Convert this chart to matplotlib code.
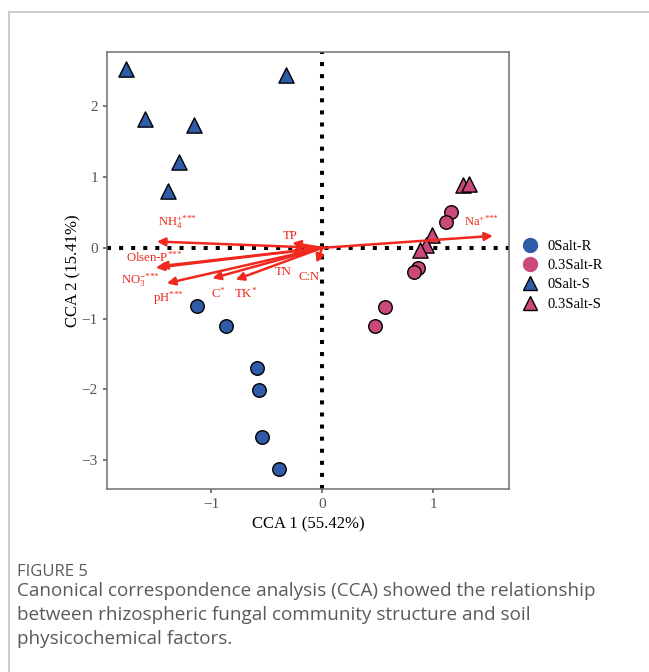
import matplotlib.pyplot as plt
from matplotlib.lines import Line2D
from matplotlib.patches import Rectangle

# Sample scores on CCA1 / CCA2
r0_x = [-1.13, -0.87, -0.59, -0.57, -0.54, -0.39]
r0_y = [-0.82, -1.10, -1.70, -2.01, -2.67, -3.13]
r3_x = [1.16, 1.12, 0.86, 0.83, 0.57, 0.48]
r3_y = [0.51, 0.37, -0.28, -0.34, -0.83, -1.10]
s0_x = [-1.77, -1.60, -1.16, -1.29, -1.39, -0.33]
s0_y = [2.53, 1.82, 1.74, 1.22, 0.81, 2.45]
s3_x = [1.27, 1.32, 0.99, 0.94, 0.88]
s3_y = [0.89, 0.91, 0.18, 0.04, -0.03]

# Environmental factor vectors
env_names = ['NH$_4^{+{*}{*}{*}}$', 'TP', 'Olsen-P$^{{*}{*}{*}}$', 'NO$_3^{-{*}{*}{*}}$',
             'pH$^{{*}{*}{*}}$', 'C$^{{*}}$', 'TK$^{{*}}$', 'TN', 'C:N', 'Na$^{+{*}{*}{*}}$']
env_x = [-1.49, -0.27, -1.47, -1.50, -1.40, -0.99, -0.78, -0.28, -0.05, 1.54]
env_y = [0.09, 0.07, -0.26, -0.28, -0.50, -0.43, -0.45, -0.05, -0.21, 0.17]
lab_x = [-1.31, -0.29, -1.52, -1.64, -1.39, -0.94, -0.69, -0.35, -0.12, 1.44]
lab_y = [0.36, 0.17, -0.14, -0.45, -0.71, -0.64, -0.64, -0.34, -0.41, 0.37]

blue = '#2F5BA8'
pink = '#C9497A'
red = '#F0281E'

plt.rcParams['font.family'] = ['Liberation Serif', 'DejaVu Serif']
plt.rcParams['mathtext.default'] = 'regular'
fig = plt.figure(figsize=(6.49, 6.72), dpi=100)

# light card border
fig.patches.append(Rectangle((9 / 649, -0.1), 1.2, 1 - 12 / 672 + 0.1,
                             transform=fig.transFigure, fill=False,
                             edgecolor='#c4c4c4', lw=1.2))

ax = fig.add_axes([0.1649, 0.2723, 0.6194, 0.6503])
ax.set_xlim(-1.94, 1.685)
ax.set_ylim(-3.41, 2.77)

ax.axhline(0, color='black', lw=2.9, ls=(0, (1, 2)), zorder=1)
ax.axvline(0, color='black', lw=2.9, ls=(0, (1, 2)), zorder=1)

ax.scatter(r0_x, r0_y, s=95, c=blue, edgecolors='black', linewidths=1, marker='o', zorder=3)
ax.scatter(r3_x, r3_y, s=95, c=pink, edgecolors='black', linewidths=1, marker='o', zorder=3)
ax.scatter(s0_x, s0_y, s=120, c=blue, edgecolors='black', linewidths=1, marker='^', zorder=3)
ax.scatter(s3_x, s3_y, s=120, c=pink, edgecolors='black', linewidths=1, marker='^', zorder=3)

for name, x, y, lx, ly in zip(env_names, env_x, env_y, lab_x, lab_y):
    ax.annotate('', xy=(x, y), xytext=(0, 0),
                arrowprops=dict(arrowstyle='-|>', color=red, lw=1.8,
                                mutation_scale=12, shrinkA=0, shrinkB=0),
                zorder=4)
    ax.text(lx, ly, name, color=red, fontsize=9.2, ha='center', va='center', zorder=5)

for s in ax.spines.values():
    s.set_color('#707070')
    s.set_linewidth(1.1)
ax.set_xticks([-1, 0, 1])
ax.set_yticks([-3, -2, -1, 0, 1, 2])
ax.set_yticklabels(['\u22123', '\u22122', '\u22121', '0', '1', '2'])
ax.set_xticklabels(['\u22121', '0', '1'])
ax.tick_params(colors='#555555', labelsize=11, length=3, width=1.1)
ax.set_xlabel('CCA 1 (55.42%)', fontsize=12, labelpad=4)
ax.set_ylabel('CCA 2 (15.41%)', fontsize=12, labelpad=0)

handles = [
    Line2D([], [], ls='none', marker='o', ms=10, mfc=blue, mec=blue),
    Line2D([], [], ls='none', marker='o', ms=10, mfc=pink, mec=pink),
    Line2D([], [], ls='none', marker='^', ms=10, mfc=blue, mec='black', mew=1),
    Line2D([], [], ls='none', marker='^', ms=10, mfc=pink, mec='black', mew=1),
]
fig.legend(handles, ['0Salt-R', '0.3Salt-R', '0Salt-S', '0.3Salt-S'],
           loc='center left', bbox_to_anchor=(512 / 649, 1 - 275 / 672),
           frameon=False, fontsize=10.5, handletextpad=0.45, labelspacing=0.42,
           borderaxespad=0, handlelength=1.6)

cap_font = ['Open Sans', 'DejaVu Sans']
fig.text(17 / 649, 1 - 572 / 672, 'FIGURE 5', fontsize=12, color='#5a5a5a',
         family=cap_font, va='center')
fig.text(17 / 649, 1 - 582 / 672,
         'Canonical correspondence analysis (CCA) showed the relationship\n'
         'between rhizospheric fungal community structure and soil\n'
         'physicochemical factors.',
         fontsize=13.6, color='#5a5a5a', family=cap_font, va='top',
         linespacing=1.42)

fig.savefig('out.png', dpi=100)
